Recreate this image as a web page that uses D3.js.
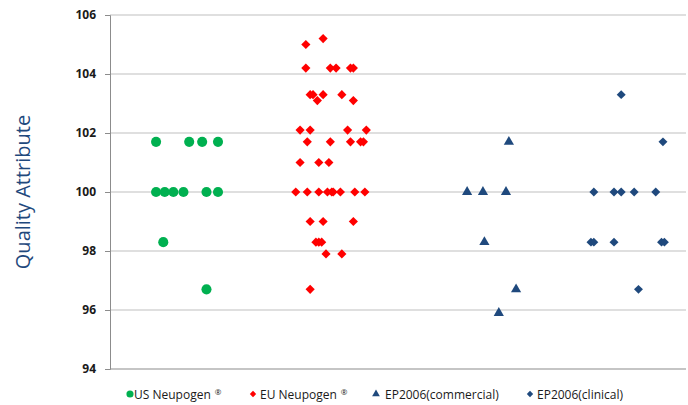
<!DOCTYPE html>
<html lang="en">
<head>
    <meta charset="utf-8">
    <title>Quality Attribute</title>
    <script src="https://d3js.org/d3.v7.min.js"></script>
    <style>
        body {
            margin: 0;
            background-color: #fff;
            font-family: "Open Sans", Arial, sans-serif;
        }
    </style>
</head>
<body>
    <svg id="chart" width="688" height="405"></svg>

    <script>
        // values; x is the jittered position inside each group
        const usX = [0.32, 0.55, 0.64, 0.75, 0.32, 0.38, 0.44, 0.51, 0.67, 0.75, 0.37, 0.67];
        const usY = [101.7, 101.7, 101.7, 101.7, 100, 100, 100, 100, 100, 100, 98.3, 96.7];

        const euX = [1.48, 1.36,
            1.36, 1.53, 1.57, 1.67, 1.69,
            1.39, 1.41, 1.48, 1.61,
            1.44, 1.69,
            1.32, 1.39, 1.65, 1.78,
            1.37, 1.53, 1.67, 1.74, 1.76,
            1.32, 1.45, 1.52,
            1.29, 1.37, 1.45, 1.51, 1.54, 1.55, 1.60, 1.70, 1.77,
            1.39, 1.48, 1.69,
            1.43, 1.45, 1.47,
            1.50, 1.61,
            1.39];
        const euY = [105.2, 105.0,
            104.2, 104.2, 104.2, 104.2, 104.2,
            103.3, 103.3, 103.3, 103.3,
            103.1, 103.1,
            102.1, 102.1, 102.1, 102.1,
            101.7, 101.7, 101.7, 101.7, 101.7,
            101.0, 101.0, 101.0,
            100, 100, 100, 100, 100, 100, 100, 100, 100,
            99.0, 99.0, 99.0,
            98.3, 98.3, 98.3,
            97.9, 97.9,
            96.7];

        const commX = [2.77, 2.48, 2.59, 2.75, 2.60, 2.82, 2.70];
        const commY = [101.7, 100, 100, 100, 98.3, 96.7, 95.9];

        const clinX = [3.55, 3.84, 3.36, 3.50, 3.55, 3.64, 3.79, 3.34, 3.36, 3.50, 3.83, 3.85, 3.67];
        const clinY = [103.3, 101.7, 100, 100, 100, 100, 100, 98.3, 98.3, 98.3, 98.3, 98.3, 96.7];

        const yTicks = [94, 96, 98, 100, 102, 104, 106];
        const seriesNames = ["US Neupogen", "EU Neupogen", "EP2006(commercial)", "EP2006(clinical)"];

        const green = "#00b050", red = "#ff0000", navy = "#1f497d";

        const svg = d3.select("#chart");
        const margin = {left: 110, right: 2, top: 15, bottom: 36};
        const width = 688, height = 405;

        const x = d3.scaleLinear().domain([0, 4]).range([margin.left, width - margin.right]);
        const y = d3.scaleLinear().domain([94, 106]).range([height - margin.bottom, margin.top]);

        // gridlines
        svg.append("g")
            .selectAll("line")
            .data(yTicks.filter(d => d > 94))
            .join("line")
            .attr("x1", margin.left)
            .attr("x2", width - margin.right)
            .attr("y1", d => y(d))
            .attr("y2", d => y(d))
            .attr("stroke", "#c0c0c0")
            .attr("stroke-width", 1.2);

        // y axis
        const yAxis = svg.append("g")
            .attr("transform", `translate(${margin.left},0)`)
            .call(d3.axisLeft(y).tickValues(yTicks).tickSize(5).tickPadding(9));
        yAxis.select(".domain").attr("stroke", "#8c8c8c");
        yAxis.selectAll(".tick line").attr("stroke", "#8c8c8c");
        yAxis.selectAll(".tick text")
            .attr("font-family", "Open Sans, Arial, sans-serif")
            .attr("font-size", 12)
            .attr("font-weight", "bold")
            .attr("fill", "#1a1a1a");

        // x axis baseline
        svg.append("line")
            .attr("x1", margin.left)
            .attr("x2", width - margin.right)
            .attr("y1", y(94))
            .attr("y2", y(94))
            .attr("stroke", "#8c8c8c")
            .attr("stroke-width", 1.2);

        // axis title
        svg.append("text")
            .attr("transform", `translate(30,${y(100)}) rotate(-90)`)
            .attr("text-anchor", "middle")
            .attr("font-family", "Open Sans, Arial, sans-serif")
            .attr("font-size", 20)
            .attr("fill", "#1f497d")
            .text("Quality Attribute");

        const circleSym = d3.symbol().type(d3.symbolCircle);
        const diamondSym = d3.symbol().type(d3.symbolSquare);
        const triSym = d3.symbol().type(d3.symbolTriangle);

        function plot(xs, ys, sym, size, color, rotate) {
            svg.append("g")
                .selectAll("path")
                .data(xs.map((v, i) => [v, ys[i]]))
                .join("path")
                .attr("d", sym.size(size)())
                .attr("transform", d => `translate(${x(d[0])},${y(d[1])})` + (rotate ? " rotate(45)" : ""))
                .attr("fill", color);
        }

        plot(usX, usY, circleSym, 80, green, false);
        plot(euX, euY, diamondSym, 42, red, true);
        plot(commX, commY, triSym, 45, navy, false);
        plot(clinX, clinY, diamondSym, 40, navy, true);

        // legend
        const legendItems = [
            {name: seriesNames[0], sym: circleSym, size: 40, color: green, rot: false, reg: true, mx: 130, tx: 134},
            {name: seriesNames[1], sym: diamondSym, size: 20, color: red, rot: true, reg: true, mx: 253, tx: 260},
            {name: seriesNames[2], sym: triSym, size: 26, color: navy, rot: false, reg: false, mx: 376, tx: 385},
            {name: seriesNames[3], sym: diamondSym, size: 20, color: navy, rot: true, reg: false, mx: 530, tx: 537}
        ];
        const ly = 394;
        const lg = svg.append("g");
        legendItems.forEach(it => {
            lg.append("path")
                .attr("d", it.sym.size(it.size)())
                .attr("transform", `translate(${it.mx},${ly})` + (it.rot ? " rotate(45)" : ""))
                .attr("fill", it.color);
            const t = lg.append("text")
                .attr("x", it.tx)
                .attr("y", ly + 4.5)
                .attr("font-family", "Open Sans, Arial, sans-serif")
                .attr("font-size", 12)
                .attr("fill", "#1a1a1a")
                .text(it.name);
            if (it.reg) {
                t.append("tspan")
                    .attr("dx", 4)
                    .attr("dy", -4)
                    .attr("font-size", 8)
                    .text("®");
            }
        });
    </script>
</body>
</html>
